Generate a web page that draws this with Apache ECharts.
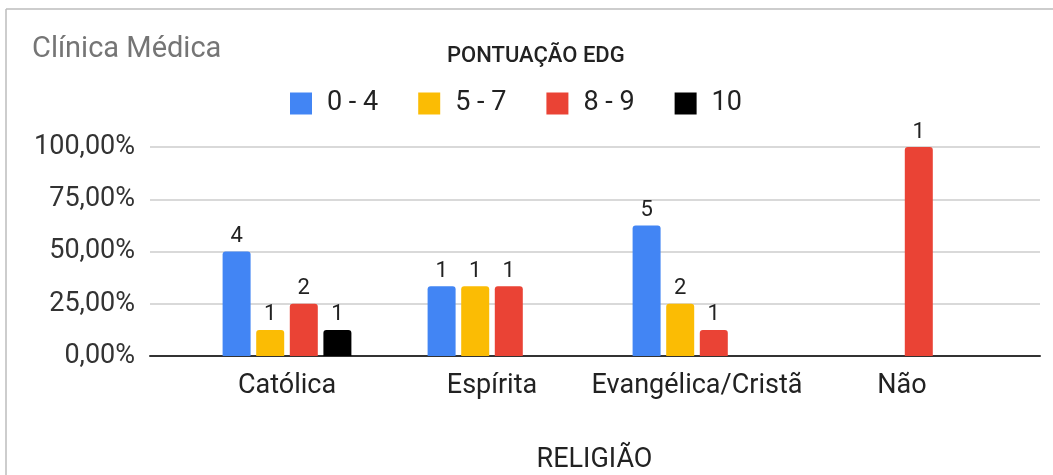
<!DOCTYPE html>
<html lang="pt">
  <head>
    <meta charset="UTF-8" />
    <title>Clínica Médica</title>
    <script src="https://cdnjs.cloudflare.com/ajax/libs/echarts/6.0.0/echarts.min.js"></script>
    <style>
      html, body { margin: 0; padding: 0; background: #fff; }
    </style>
  </head>
  <body>
    <div id="main" style="width: 1053px; height: 475px"></div>
    <script>
      // dados
      var categorias = ["Católica", "Espírita", "Evangélica/Cristã", "Não"];
      var faixas = ["0 - 4", "5 - 7", "8 - 9", "10"];
      var cores = ["#4285f4", "#fbbc04", "#ea4335", "#000000"];
      // percentuais por religião
      var pct04 = [50, 33.33, 62.5, null];
      var pct57 = [12.5, 33.33, 25, null];
      var pct89 = [25, 33.33, 12.5, 100];
      var pct10 = [12.5, null, null, null];
      // contagens mostradas acima das barras
      var qtd04 = [4, 1, 5, null];
      var qtd57 = [1, 1, 2, null];
      var qtd89 = [2, 1, 1, 1];
      var qtd10 = [1, null, null, null];
      var yTicks = [0, 25, 50, 75, 100];

      var pcts = [pct04, pct57, pct89, pct10];
      var qtds = [qtd04, qtd57, qtd89, qtd10];

      var myChart = echarts.init(document.getElementById("main"));

      var series = faixas.map(function (nome, i) {
        return {
          type: "bar",
          name: nome,
          xAxisIndex: 1,
          yAxisIndex: 1,
          data: pcts[i],
          barWidth: 28,
          barGap: "20%",
          itemStyle: { color: cores[i], borderRadius: [3, 3, 0, 0] },
          label: {
            show: true,
            position: "top",
            distance: 4,
            fontFamily: "Roboto",
            fontSize: 22,
            color: "#222",
            formatter: function (p) {
              return qtds[i][p.dataIndex];
            },
          },
        };
      });

      var option = {
        animation: false,
        textStyle: { fontFamily: "Roboto" },
        title: [
          {
            text: "Clínica Médica",
            left: 27,
            top: 30,
            textStyle: { fontSize: 29, fontWeight: "normal", color: "#757575" },
          },
          {
            text: "PONTUAÇÃO EDG",
            left: 442,
            top: 40,
            textStyle: { fontSize: 22, fontWeight: 500, color: "#222" },
          },
        ],
        legend: {
          data: faixas,
          left: 285,
          top: 85,
          icon: "rect",
          itemWidth: 22,
          itemHeight: 22,
          itemGap: 40,
          itemStyle: { borderRadius: 2 },
          textStyle: { fontSize: 27, color: "#222", padding: [0, 0, 0, 10] },
        },
        graphic: [
          { type: "line", shape: { x1: 6, y1: 9, x2: 1053, y2: 9 }, style: { stroke: "#bdbdbd", lineWidth: 1.5 } },
          { type: "line", shape: { x1: 6, y1: 9, x2: 6, y2: 475 }, style: { stroke: "#bdbdbd", lineWidth: 1.5 } },
        ],
        grid: [
          { left: 150, right: 13, top: 147, bottom: 119 },
          { left: 184.5, right: 48.5, top: 147, bottom: 119 },
        ],
        xAxis: [
          {
            type: "value",
            gridIndex: 0,
            min: 0,
            max: 1,
            axisLine: { show: true, lineStyle: { color: "#333", width: 2 } },
            axisTick: { show: false },
            axisLabel: { show: false },
            splitLine: { show: false },
          },
          {
            type: "category",
            gridIndex: 1,
            data: categorias,
            axisLine: { show: false },
            axisTick: { show: false },
            axisLabel: { interval: 0, fontSize: 27, color: "#222", margin: 17 },
            name: "RELIGIÃO",
            nameLocation: "middle",
            nameGap: 91,
            nameTextStyle: { fontSize: 27, color: "#222" },
          },
        ],
        yAxis: [
          {
            type: "value",
            gridIndex: 0,
            min: 0,
            max: yTicks[yTicks.length - 1],
            interval: 25,
            axisLine: { show: false },
            axisTick: { show: false },
            axisLabel: {
              fontSize: 27,
              color: "#333",
              margin: 15,
              formatter: function (v) {
                return v.toFixed(2).replace(".", ",") + "%";
              },
            },
            splitLine: { lineStyle: { color: "#cccccc", width: 1.5 } },
          },
          {
            type: "value",
            gridIndex: 1,
            min: 0,
            max: 100,
            show: false,
            splitLine: { show: false },
          },
        ],
        series: series,
      };

      myChart.setOption(option);
    </script>
  </body>
</html>
